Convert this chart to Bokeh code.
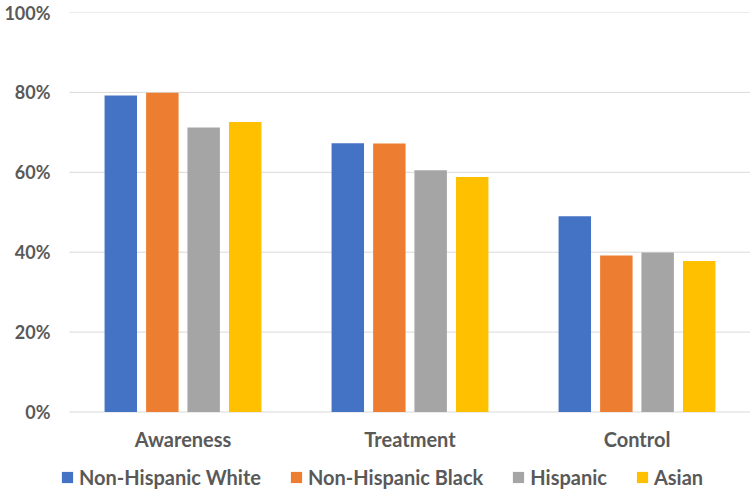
from bokeh.plotting import figure
from bokeh.models import (ColumnDataSource, Range1d, FixedTicker, PrintfTickFormatter,
                          Legend, LegendItem)
from bokeh.core.properties import value
from bokeh.transform import dodge
from bokeh.embed import file_html
from bokeh.resources import INLINE

# ---- data ----
categories = ["Awareness", "Treatment", "Control"]
series = ["Non-Hispanic White", "Non-Hispanic Black", "Hispanic", "Asian"]
white = [79.2, 67.3, 49.0]
black = [79.9, 67.2, 39.2]
hispanic = [71.2, 60.5, 39.9]
asian = [72.6, 58.8, 37.8]
y_ticks = [0, 20, 40, 60, 80, 100]

colors = ["#4472C4", "#ED7D31", "#A5A5A5", "#FFC000"]
offsets = [-0.274, -0.091, 0.091, 0.274]
FONT = "Lato"
TXT = "#595959"

xs = list(range(len(categories)))
source = ColumnDataSource(dict(
    x=xs, white=white, black=black, hispanic=hispanic, asian=asian,
))
label_src = ColumnDataSource(dict(x=xs, cat=categories))
grid_src = ColumnDataSource(dict(y=y_ticks))
cols = ["white", "black", "hispanic", "asian"]

x_lo, x_hi = -0.5, len(categories) - 0.5

p = figure(width=750, height=492, output_backend="svg", toolbar_location=None,
           x_range=Range1d(x_lo - 9 / 227, x_hi), y_range=Range1d(-20.15, 100),
           x_axis_location=None,
           min_border_left=60, min_border_right=0, min_border_top=12,
           min_border_bottom=0)

# horizontal gridlines spanning the category area
p.segment(x0=x_lo, x1=x_hi, y0="y", y1="y", source=grid_src,
          line_color="#D9D9D9", line_width=1)

items = []
for col, name, c, off in zip(cols, series, colors, offsets):
    r = p.vbar(x=dodge("x", off, range=p.x_range), top=col, width=0.143,
               source=source, fill_color=c, line_color=None)
    items.append(LegendItem(label=name, renderers=[r]))

# category labels under the baseline
p.text(x="x", y=0, text="cat", source=label_src, y_offset=27,
       text_align="center", text_baseline="alphabetic",
       text_font=value(FONT), text_font_style="bold",
       text_font_size="20px", text_color=TXT)

p.outline_line_color = None
p.xgrid.grid_line_color = None
p.ygrid.grid_line_color = None

yax = p.yaxis[0]
yax.ticker = FixedTicker(ticks=y_ticks)
yax.formatter = PrintfTickFormatter(format="%d%%")
yax.axis_line_color = None
yax.major_tick_line_color = None
yax.minor_tick_line_color = None
yax.major_tick_out = 0
yax.major_tick_in = 0
yax.major_label_standoff = 10
yax.major_label_text_font = FONT
yax.major_label_text_font_style = "bold"
yax.major_label_text_font_size = "18px"
yax.major_label_text_color = TXT

leg = Legend(items=items, location=(0, 3), orientation="horizontal",
             padding=0, margin=0, spacing=28, label_standoff=5,
             glyph_width=14, glyph_height=14, border_line_color=None,
             background_fill_alpha=0, label_text_font=FONT,
             label_text_font_style="bold", label_text_font_size="20px",
             label_text_color=TXT)
p.add_layout(leg)

open("out.html", "w").write(file_html(p, INLINE))
